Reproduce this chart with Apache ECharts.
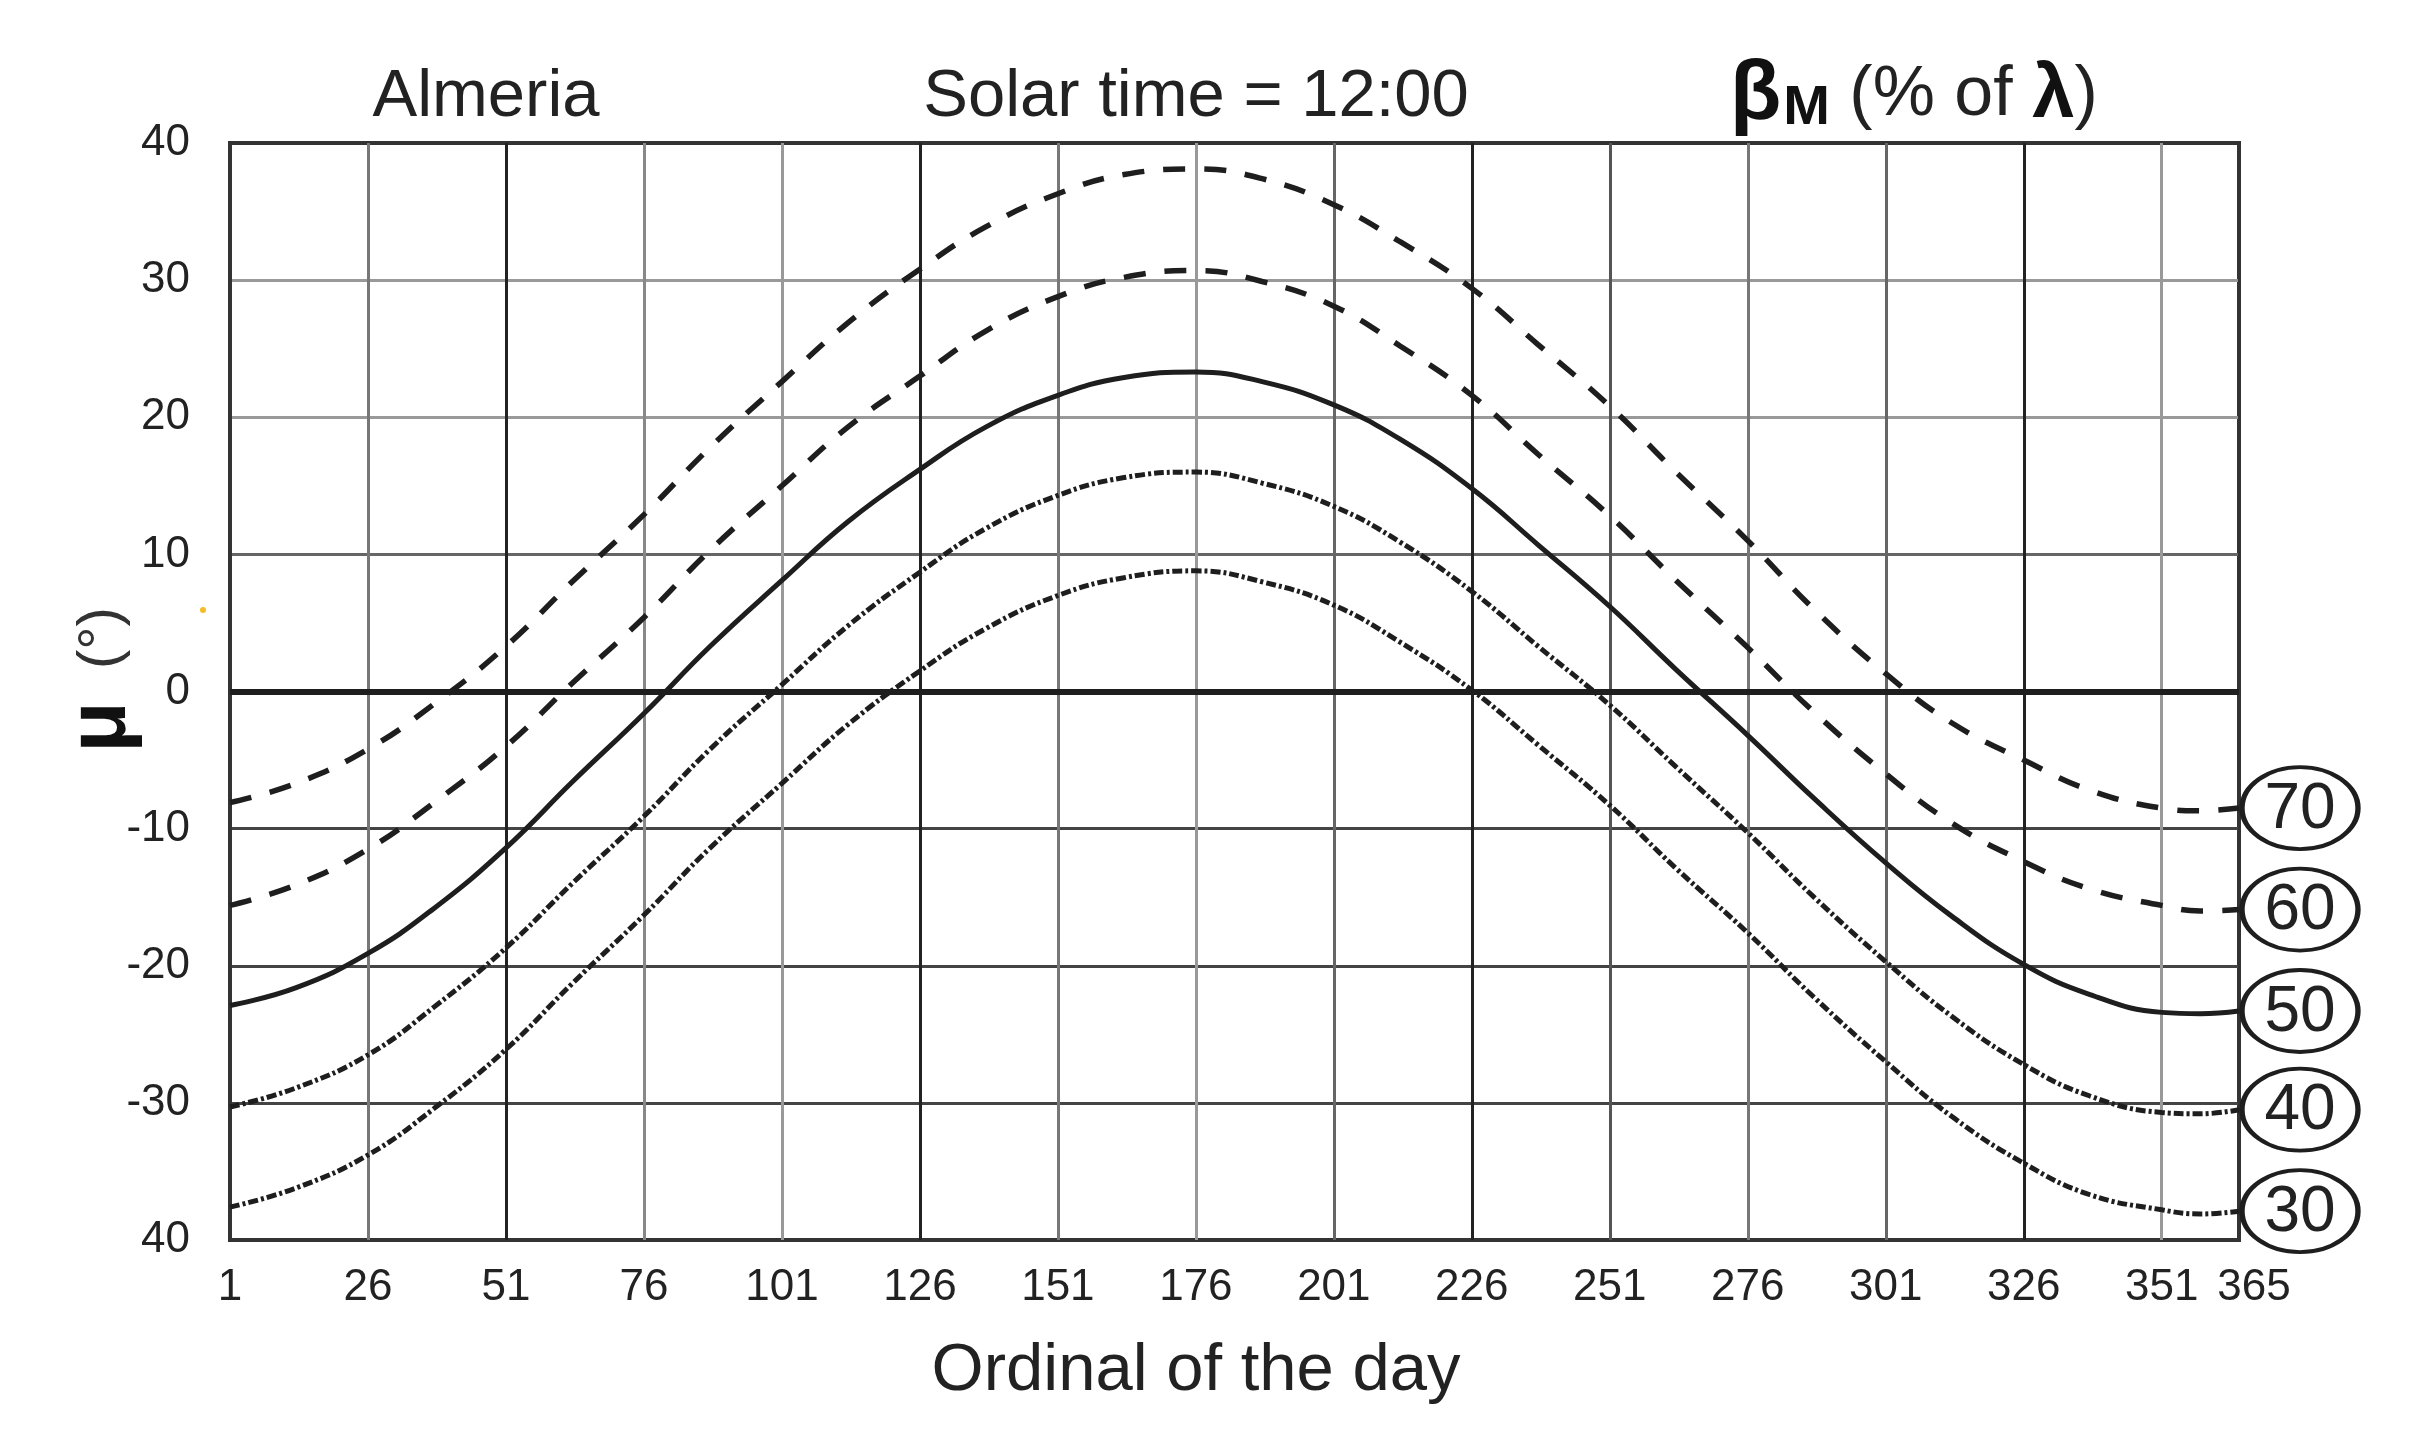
<!DOCTYPE html>
<html>
<head>
<meta charset="utf-8">
<title>Almeria - solar time 12:00</title>
<script src="https://cdn.jsdelivr.net/npm/echarts@6/dist/echarts.min.js"></script>
<style>
  html, body { margin: 0; padding: 0; background: #fff; }
  #main { width: 2436px; height: 1446px; }
</style>
</head>
<body>
<div id="main"></div>
<script>
// values (degrees), one array per beta_M curve
var days   = [1, 13, 26, 38, 51, 63, 76, 88, 101, 113, 126, 138, 151, 163, 176, 188,
              201, 213, 226, 238, 251, 263, 276, 288, 301, 313, 326, 338, 351, 358, 365];
var beta70 = [-8.1, -6.7, -4.2, -0.9, 3.3, 8.0, 12.9, 17.8, 22.6, 26.9, 30.8, 33.9, 36.3, 37.7, 38.1, 37.4,
              35.5, 32.8, 29.4, 25.3, 20.8, 16.0, 11.0, 6.0, 1.3, -2.3, -5.0, -7.2, -8.5, -8.7, -8.5];
var beta60 = [-15.6, -14.1, -11.5, -8.1, -4.0, 0.6, 5.4, 10.3, 15.0, 19.3, 23.0, 26.3, 28.8, 30.2, 30.7, 29.9,
              28.1, 25.2, 21.6, 17.3, 12.8, 8.1, 3.2, -1.5, -6.0, -9.6, -12.4, -14.4, -15.6, -16.0, -15.9];
var beta50 = [-22.9, -21.6, -19.1, -15.8, -11.4, -6.6, -1.6, 3.3, 8.1, 12.4, 16.2, 19.3, 21.6, 22.9, 23.3, 22.6,
              20.9, 18.4, 14.8, 10.7, 6.2, 1.6, -3.2, -7.8, -12.5, -16.4, -19.9, -22.1, -23.4, -23.5, -23.3];
var beta40 = [-30.3, -28.9, -26.5, -23.0, -18.7, -14.0, -9.1, -4.2, 0.5, 4.8, 8.7, 11.9, 14.3, 15.6, 16.0, 15.2,
              13.5, 10.9, 7.3, 3.3, -1.0, -5.5, -10.3, -15.0, -19.7, -23.7, -27.2, -29.5, -30.7, -30.8, -30.5];
var beta30 = [-37.6, -36.2, -33.8, -30.4, -26.1, -21.3, -16.3, -11.4, -6.7, -2.4, 1.5, 4.6, 7.0, 8.3, 8.8, 8.0,
              6.3, 3.6, 0.1, -3.9, -8.3, -12.9, -17.6, -22.3, -27.0, -31.0, -34.4, -36.7, -37.8, -38.1, -37.9];
var curveNames = ['70', '60', '50', '40', '30'];
var yTickLabels = {'-40': '40'};   // bottom label is printed "40" in the original

var FONT = '"Liberation Sans", Arial, sans-serif';

function pairs(vals) {
    return days.map(function (d, i) { return [d, vals[i]]; });
}

function curve(name, vals, lineType, width) {
    return {
        name: name,
        type: 'line',
        data: pairs(vals),
        smooth: 0.45,
        showSymbol: false,
        lineStyle: { color: '#1e1e1e', width: width, type: lineType, cap: 'butt' },
        z: 3
    };
}

// the circled labels at the right end of every curve
function endTag(name, vals) {
    return {
        name: name + '-tag',
        type: 'scatter',
        clip: false,
        data: [[days[days.length - 1], vals[vals.length - 1]]],
        symbol: 'circle',
        symbolSize: [116, 82],
        symbolOffset: [61, 0],
        itemStyle: { color: '#fff', borderColor: '#1e1e1e', borderWidth: 4.5, opacity: 1 },
        label: {
            show: true, position: 'inside', offset: [0, 2],
            formatter: name, color: '#222', fontSize: 64, fontFamily: FONT
        },
        emphasis: { disabled: true },
        z: 5
    };
}

function drawChart() {
    var myChart = echarts.init(document.getElementById('main'));

    var series = [
        curve('70', beta70, [22, 19], 5.5),
        curve('60', beta60, [22, 19], 5.5),
        curve('50', beta50, 'solid', 5),
        curve('40', beta40, [10, 3, 3, 3], 5),
        curve('30', beta30, [10, 3, 3, 3], 5)
    ];
    // heavy zero line
    series[2].markLine = {
        silent: true, symbol: 'none', label: { show: false },
        lineStyle: { color: '#1e1e1e', width: 6, type: 'solid' },
        data: [{ yAxis: 0 }]
    };
    var allVals = [beta70, beta60, beta50, beta40, beta30];
    curveNames.forEach(function (n, i) { series.push(endTag(n, allVals[i])); });

    var option = {
        animation: false,
        backgroundColor: '#fff',
        grid: {
            left: 230, right: 197, top: 143, bottom: 206,
            show: true, borderColor: '#333', borderWidth: 4,
            containLabel: false, outerBoundsMode: 'none'
        },
        xAxis: {
            type: 'value', min: 1, max: 365, interval: 25,
            axisLine: { show: true, lineStyle: { color: '#333', width: 4 } },
            axisTick: { show: false },
            axisLabel: {
                fontSize: 44, color: '#222', fontFamily: FONT, margin: 26, hideOverlap: false,
                formatter: function (v) { return v === 365 ? '{r|365}' : String(v); },
                rich: { r: { fontSize: 44, color: '#222', fontFamily: FONT, padding: [0, 0, 0, 30] } }
            },
            splitLine: {
                show: true,
                lineStyle: {
                    width: 3,
                    color: ['#333', '#777', '#222', '#888', '#999', '#222', '#777', '#999',
                            '#666', '#222', '#555', '#777', '#666', '#222', '#999', '#333']
                }
            }
        },
        yAxis: {
            type: 'value', min: -40, max: 40, interval: 10,
            axisLine: { show: true, lineStyle: { color: '#333', width: 4 } },
            axisTick: { show: false },
            axisLabel: {
                fontSize: 44, color: '#222', fontFamily: FONT, margin: 40,
                formatter: function (v) { return yTickLabels[v] !== undefined ? yTickLabels[v] : String(v); }
            },
            splitLine: {
                show: true,
                lineStyle: {
                    width: 3,
                    color: ['#333', '#444', '#444', '#444', '#222', '#666', '#999', '#999', '#333']
                }
            }
        },
        graphic: [
            { type: 'text', x: 486, y: 98, style: { text: 'Almeria', font: '67px ' + FONT, fill: '#222', textAlign: 'center', textVerticalAlign: 'middle' } },
            { type: 'text', x: 1196, y: 98, style: { text: 'Solar time = 12:00', font: '67px ' + FONT, fill: '#222', textAlign: 'center', textVerticalAlign: 'middle' } },
            {
                type: 'text', x: 1730, y: 96,
                style: {
                    text: '{b|β}{m|M}{n| (% of }{l|λ}{n|)}',
                    textAlign: 'left', textVerticalAlign: 'middle',
                    rich: {
                        b: { fontSize: 84, fontWeight: 'bold', fontFamily: FONT, fill: '#111' },
                        m: { fontSize: 56, fontWeight: 'bold', fontFamily: FONT, fill: '#111', padding: [26, 0, 0, 2] },
                        n: { fontSize: 70, fontFamily: FONT, fill: '#222' },
                        l: { fontSize: 76, fontWeight: 'bold', fontFamily: FONT, fill: '#111' }
                    }
                }
            },
            { type: 'text', x: 1196, y: 1372, style: { text: 'Ordinal of the day', font: '67px ' + FONT, fill: '#222', textAlign: 'center', textVerticalAlign: 'middle' } },
            {
                type: 'text', x: 102, y: 680, rotation: Math.PI / 2,
                style: {
                    text: '{mu|μ}{d|  (°)}',
                    textAlign: 'center', textVerticalAlign: 'middle',
                    rich: {
                        mu: { fontSize: 84, fontWeight: 'bold', fontFamily: FONT, fill: '#111' },
                        d: { fontSize: 58, fontFamily: FONT, fill: '#333' }
                    }
                }
            },
            { type: 'circle', shape: { cx: 203, cy: 610, r: 3 }, style: { fill: '#f6bb2a' } }
        ],
        series: series
    };

    myChart.setOption(option);
}

drawChart();
</script>
</body>
</html>
